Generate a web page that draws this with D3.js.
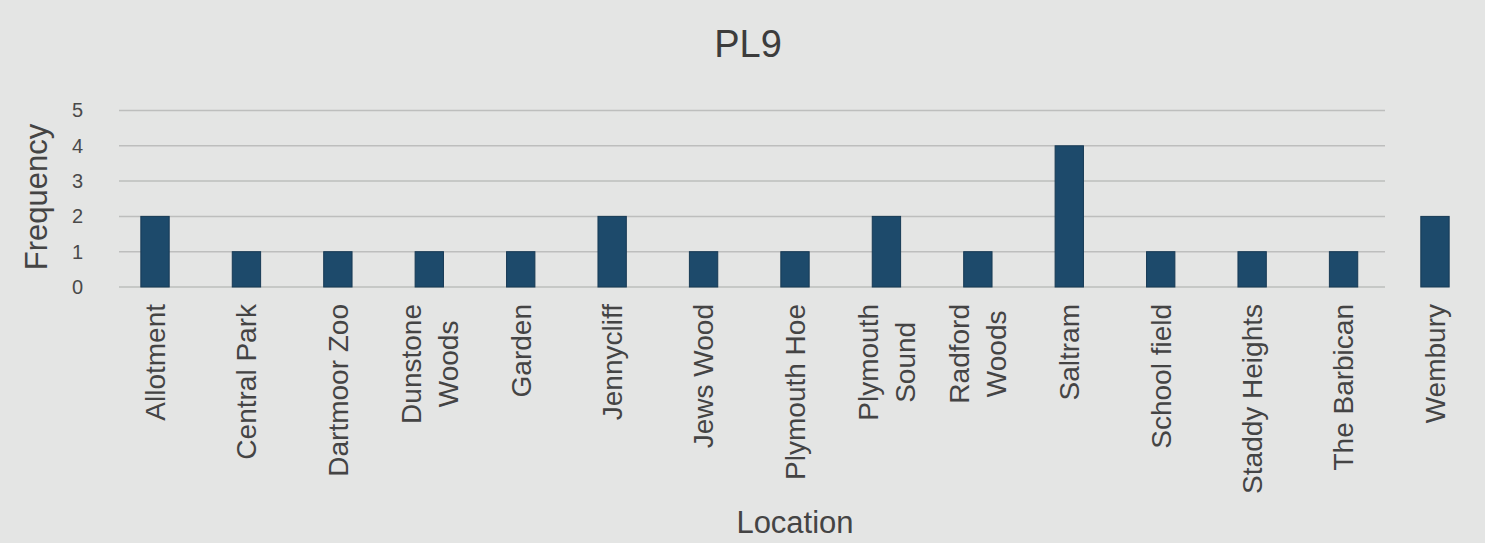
<!DOCTYPE html>
<html lang="en">
<head>
<meta charset="utf-8">
<title>PL9</title>
<script src="https://cdn.jsdelivr.net/npm/d3@7"></script>
<style>
  html, body { margin: 0; padding: 0; background: #e4e5e4; }
  svg text { font-family: "Liberation Sans", Arial, sans-serif; fill: #3c3c3c; }
</style>
</head>
<body>
<div id="viz"></div>
<script>
// data
var locations = ["Allotment", "Central Park", "Dartmoor Zoo", "Dunstone Woods", "Garden",
  "Jennycliff", "Jews Wood", "Plymouth Hoe", "Plymouth Sound", "Radford Woods",
  "Saltram", "School field", "Staddy Heights", "The Barbican", "Wembury"];
var frequency = [2, 1, 1, 1, 1, 2, 1, 1, 2, 1, 4, 1, 1, 1, 2];
var yTicks = [0, 1, 2, 3, 4, 5];
// labels shown on two lines
var wrapped = {"Dunstone Woods": ["Dunstone", "Woods"], "Plymouth Sound": ["Plymouth", "Sound"], "Radford Woods": ["Radford", "Woods"]};

var W = 1485, H = 543;
var svg = d3.select("#viz").append("svg").attr("width", W).attr("height", H);

var x = d3.scaleBand().domain(locations).range([109.3, 1480.7])
  .paddingInner(0.69).paddingOuter(0.345);
var y = d3.scaleLinear().domain([0, 5]).range([287, 110.5]);

// gridlines
svg.append("g").selectAll("line").data(yTicks).enter().append("line")
  .attr("x1", 119).attr("x2", 1385)
  .attr("y1", function(d) { return y(d); })
  .attr("y2", function(d) { return y(d); })
  .attr("stroke", "#bdbebd").attr("stroke-width", 1.5);

// y axis labels
var yAxis = d3.axisLeft(y).tickValues(yTicks).tickFormat(d3.format("d")).tickSize(0).tickPadding(0);
var yg = svg.append("g").attr("transform", "translate(83,0)").call(yAxis);
yg.select(".domain").remove();
yg.selectAll("text").style("font-size", "20px").style("fill", "#4a4a4a")
  .style("font-family", "'Liberation Sans', Arial, sans-serif");

// bars
svg.append("g").selectAll("rect").data(locations).enter().append("rect")
  .attr("x", function(d) { return x(d); })
  .attr("width", x.bandwidth())
  .attr("y", function(d, i) { return y(frequency[i]); })
  .attr("height", function(d, i) { return y(0) - y(frequency[i]); })
  .attr("fill", "#1d4a6b")
  .attr("stroke", "#173a55").attr("stroke-width", 1);

// x tick labels, rotated
var xl = svg.append("g");
locations.forEach(function(name) {
  var cx = x(name) + x.bandwidth() / 2;
  var lines = wrapped[name] || [name];
  var g = xl.append("g").attr("transform", "translate(" + cx + ",304) rotate(-90)");
  var texts = lines.map(function(s, k) {
    return g.append("text").text(s).style("font-size", "28px").style("fill", "#444");
  });
  if (lines.length == 1) {
    texts[0].attr("text-anchor", "end").attr("dy", "0.35em");
  } else {
    var maxLen = d3.max(texts, function(t) { return t.node().getComputedTextLength(); });
    var lh = 37;
    texts.forEach(function(t, k) {
      t.attr("text-anchor", "middle").attr("x", -maxLen / 2)
        .attr("y", (k - (lines.length - 1) / 2) * lh).attr("dy", "0.35em");
    });
  }
});

// titles
svg.append("text").attr("x", 748).attr("y", 57).attr("text-anchor", "middle")
  .style("font-size", "38px").text("PL9");
svg.append("text").attr("x", 795).attr("y", 533).attr("text-anchor", "middle")
  .style("font-size", "31px").style("fill", "#444").text("Location");
svg.append("text").attr("transform", "translate(47,197) rotate(-90)").attr("text-anchor", "middle")
  .style("font-size", "31px").style("fill", "#444").text("Frequency");
</script>
</body>
</html>
